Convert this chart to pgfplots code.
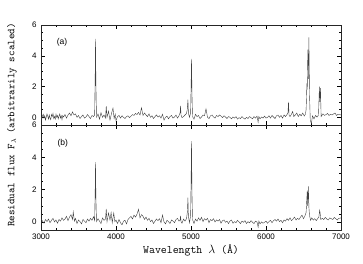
\documentclass[border=0pt]{standalone}
\usepackage{pgfplots}
\pgfplotsset{compat=1.18}
\usepackage{fontspec}
\newfontfamily\ticksf{Liberation Sans}

\pgfplotsset{
  specframe/.style={
    scale only axis, width=300pt,
    xmin=3000, xmax=7000, ymin=-0.5, ymax=6,
    xtick={3000,4000,5000,6000,7000}, minor x tick num=4,
    ytick={0,2,4,6}, minor y tick num=3,
    tick align=inside, major tick length=4pt, minor tick length=2pt,
    tick style={black, line width=0.4pt},
    axis line style={black!85, line width=0.6pt},
    /pgf/number format/1000 sep={},
    /pgf/number format/assume math mode=true,
    ticklabel style={font=\ticksf\fontsize{8}{9}\selectfont},
    yticklabel style={xshift=-1pt},
  },
  spec/.style={black!75, line width=0.4pt, mark=none},
}

\begin{document}
\begin{tikzpicture}
\useasboundingbox (-41pt,-33pt) rectangle (322pt,230pt);

% (b) lower panel
\begin{axis}[specframe, height=105pt, at={(0,0)}, anchor=south west,
  xlabel={\ttfamily\fontsize{11.5}{12}\selectfont Wavelength $\lambda$ (Å)},
  xlabel style={yshift=1pt}]
\addplot[spec] table {
3000 0.20
3020 0.05
3040 -0.08
3060 0.15
3080 0.02
3100 0.18
3120 -0.05
3140 0.10
3160 0.22
3180 0.00
3200 0.12
3220 -0.08
3240 0.15
3260 0.05
3280 0.25
3300 0.10
3320 0.18
3340 0.35
3360 0.08
3380 0.30
3400 0.45
3420 0.15
3430 0.62
3445 0.05
3460 0.22
3480 -0.10
3500 0.12
3520 0.02
3540 -0.12
3560 0.15
3580 0.05
3600 -0.05
3620 0.18
3640 0.05
3660 0.22
3680 0.10
3700 0.32
3715 0.10
3722 1.80
3727 3.70
3732 1.50
3740 0.02
3760 0.20
3780 0.05
3800 -0.10
3820 0.25
3840 0.10
3860 0.18
3870 0.80
3880 0.00
3900 0.55
3920 0.12
3935 0.58
3950 -0.05
3970 0.55
3985 0.02
4000 0.12
4020 -0.10
4040 0.15
4060 -0.05
4080 -0.18
4100 0.05
4120 0.10
4140 -0.12
4160 0.15
4180 0.25
4200 0.35
4220 0.18
4240 0.42
4260 0.30
4280 0.48
4300 0.78
4320 0.25
4340 0.45
4360 0.35
4380 0.15
4400 0.30
4420 0.10
4440 0.22
4460 0.02
4480 0.12
4500 -0.10
4520 0.05
4540 0.18
4560 0.08
4580 0.20
4600 -0.05
4620 0.42
4640 0.00
4660 -0.12
4680 0.10
4700 0.02
4720 -0.10
4740 0.12
4760 0.05
4780 -0.05
4800 0.15
4820 0.22
4840 0.05
4855 0.12
4861 0.38
4867 0.02
4880 -0.08
4900 0.18
4920 0.05
4940 0.20
4952 0.62
4959 1.50
4965 0.35
4980 -0.05
4995 0.40
5001 2.50
5007 5.00
5013 1.80
5020 0.15
5040 -0.10
5060 0.18
5080 0.05
5100 0.25
5120 0.10
5140 0.28
5160 0.02
5180 0.20
5200 0.12
5220 0.22
5240 -0.05
5260 0.15
5280 0.08
5300 0.20
5320 0.00
5340 0.12
5360 0.05
5380 0.15
5400 -0.08
5420 0.08
5440 0.12
5460 -0.02
5480 0.05
5500 -0.10
5520 0.06
5540 0.12
5560 -0.08
5580 0.02
5600 -0.05
5620 0.10
5640 0.00
5660 -0.10
5680 0.05
5700 -0.02
5720 0.08
5740 -0.10
5760 0.02
5780 -0.06
5800 0.08
5820 -0.02
5840 -0.10
5860 0.05
5880 0.00
5895 -0.32
5905 0.05
5920 -0.12
5940 0.00
5960 -0.08
5980 -0.02
6000 0.05
6020 -0.08
6040 0.02
6060 0.10
6080 -0.05
6100 0.08
6120 0.15
6140 0.05
6160 0.18
6180 0.02
6200 0.10
6220 -0.05
6240 0.12
6260 0.05
6280 0.20
6300 0.10
6320 0.25
6340 0.08
6360 0.18
6380 0.30
6400 0.12
6420 0.22
6440 0.15
6460 0.30
6480 0.42
6500 0.20
6520 0.38
6535 0.60
6545 1.50
6550 1.95
6556 1.00
6565 2.20
6572 0.90
6580 0.40
6595 0.10
6610 0.25
6630 0.12
6650 0.20
6670 0.08
6690 0.22
6705 0.30
6715 0.72
6722 0.55
6730 0.15
6750 0.22
6770 0.15
6790 0.28
6810 0.18
6830 0.12
6850 0.25
6870 0.20
6890 0.15
6910 0.28
6930 0.20
6950 0.12
6970 0.22
7000 0.25
};
\node[font=\ticksf\fontsize{8.5}{9}\selectfont] at (axis cs:3290,4.85) {(b)};
\end{axis}

% (a) upper panel
\begin{axis}[specframe, height=100pt, at={(0,105pt)}, anchor=south west,
  xticklabels={}]
\addplot[spec] table {
3000 0.05
3010 -0.15
3020 0.12
3030 0.20
3040 -0.05
3050 0.10
3060 -0.18
3070 0.02
3080 0.22
3090 0.08
3100 -0.12
3110 0.15
3120 -0.05
3130 -0.15
3140 0.18
3150 0.05
3160 0.25
3170 -0.08
3180 0.05
3190 -0.12
3200 0.20
3210 0.00
3220 0.12
3230 -0.10
3240 0.08
3250 0.22
3260 -0.05
3270 0.10
3280 -0.15
3290 0.12
3300 0.02
3320 0.18
3340 -0.05
3360 0.15
3380 0.28
3400 0.10
3420 0.35
3440 0.15
3460 0.22
3480 0.00
3500 0.12
3520 -0.08
3540 0.05
3560 0.15
3580 -0.05
3600 0.02
3620 0.18
3640 0.05
3660 -0.08
3680 0.12
3700 0.05
3715 0.15
3722 2.50
3727 5.10
3732 2.20
3740 0.00
3760 0.22
3780 -0.12
3790 0.10
3800 0.30
3820 0.00
3840 0.15
3860 -0.05
3870 0.72
3880 0.00
3900 0.40
3910 0.10
3920 -0.18
3940 0.25
3960 0.60
3975 -0.08
3990 0.20
4000 -0.22
4020 0.05
4040 0.12
4060 -0.05
4080 0.10
4100 0.00
4120 -0.08
4140 0.05
4160 0.10
4180 -0.02
4200 0.08
4220 0.18
4240 0.12
4260 0.25
4280 0.18
4300 0.32
4320 0.15
4340 0.62
4360 0.12
4380 0.28
4400 0.15
4420 0.05
4440 0.22
4460 0.00
4480 0.10
4500 -0.08
4520 0.05
4540 0.15
4560 0.02
4580 0.10
4600 -0.05
4620 0.20
4640 -0.18
4660 0.00
4680 0.08
4700 -0.10
4720 0.05
4740 0.12
4760 -0.05
4780 0.02
4800 0.15
4820 -0.05
4840 0.10
4855 0.30
4861 0.75
4867 0.15
4880 -0.02
4900 0.05
4920 0.15
4940 0.25
4950 0.50
4959 1.15
4966 0.25
4980 0.00
4995 0.30
5001 2.00
5007 3.80
5013 1.50
5020 0.05
5040 -0.12
5060 0.20
5080 0.05
5100 0.12
5120 -0.08
5140 0.02
5160 0.15
5180 0.10
5200 0.55
5220 0.00
5240 -0.08
5260 0.10
5280 0.15
5300 0.02
5320 -0.05
5340 0.12
5360 0.05
5380 0.15
5400 0.08
5420 -0.02
5440 0.10
5460 0.02
5480 -0.08
5500 0.05
5520 0.00
5540 -0.10
5560 0.02
5580 -0.05
5600 0.05
5620 -0.12
5640 -0.02
5660 -0.08
5680 0.05
5700 -0.05
5720 -0.12
5740 0.00
5760 -0.08
5780 0.05
5800 -0.02
5820 -0.10
5840 0.05
5860 -0.05
5880 0.08
5895 -0.32
5905 0.05
5920 -0.10
5940 0.02
5960 -0.05
5980 0.08
6000 -0.05
6020 0.00
6040 0.10
6060 -0.05
6080 0.12
6100 0.02
6120 -0.08
6140 0.10
6160 0.15
6180 0.00
6200 0.12
6220 -0.05
6240 0.15
6260 0.05
6280 0.18
6293 0.30
6300 1.00
6307 0.15
6320 0.05
6340 0.20
6355 0.38
6370 0.05
6390 0.15
6410 0.28
6430 0.05
6450 0.20
6470 0.10
6490 0.28
6510 0.08
6525 0.20
6535 0.50
6545 2.20
6550 1.80
6558 4.40
6565 2.50
6572 5.20
6580 1.50
6590 -0.20
6605 -0.40
6620 0.10
6640 -0.10
6660 0.12
6680 0.02
6700 0.15
6712 2.00
6718 1.00
6726 1.90
6735 0.05
6760 0.22
6780 0.12
6800 0.18
6820 0.25
6840 0.12
6860 0.20
6880 0.15
6900 0.22
6920 0.28
6940 0.12
6960 0.20
6980 0.18
7000 0.15
};
\node[font=\ticksf\fontsize{8.5}{9}\selectfont] at (axis cs:3280,4.9) {(a)};
\end{axis}

\node[rotate=90, font=\ttfamily\fontsize{10.5}{12}\selectfont] at (-29pt,105pt)
  {Residual flux F\raisebox{-0.35ex}{\fontsize{7.5}{8}\selectfont$\lambda$} (arbitrarily scaled)};
\end{tikzpicture}
\end{document}
